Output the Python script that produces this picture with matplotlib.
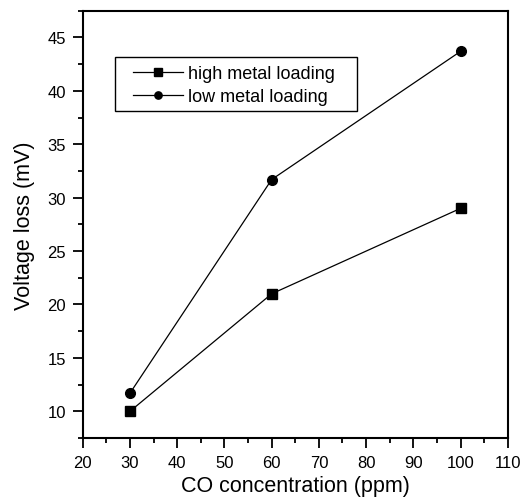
import matplotlib
matplotlib.use('Agg')
import matplotlib.pyplot as plt
from matplotlib.patches import Rectangle
from matplotlib.ticker import MultipleLocator

plt.rcParams['font.family'] = ['Liberation Sans', 'DejaVu Sans']

# Data
co_ppm = [30, 60, 100]
high_loading = [10, 21, 29]
low_loading = [11.7, 31.7, 43.7]

fig = plt.figure(figsize=(5.24, 5.02), dpi=100)
ax = fig.add_axes([0.158, 0.1255, 0.811, 0.851])

ax.plot(co_ppm, high_loading, color='black', lw=0.9, marker='s', ms=7,
        label='high metal loading')
ax.plot(co_ppm, low_loading, color='black', lw=0.9, marker='o', ms=7,
        label='low metal loading')

ax.set_xlim(20, 110)
ax.set_ylim(7.5, 47.5)
ax.xaxis.set_major_locator(MultipleLocator(10))
ax.xaxis.set_minor_locator(MultipleLocator(5))
ax.yaxis.set_major_locator(MultipleLocator(5))
ax.yaxis.set_minor_locator(MultipleLocator(2.5))
ax.tick_params(which='major', direction='out', length=7, width=1.3,
               labelsize=12, pad=5)
ax.tick_params(which='minor', direction='out', length=3.5, width=1.3)
for s in ax.spines.values():
    s.set_linewidth(1.5)

ax.set_xlabel('CO concentration (ppm)', fontsize=15.5, labelpad=4)
ax.set_ylabel('Voltage loss (mV)', fontsize=15.5, labelpad=9)

# legend box drawn separately to get the wide side padding
ax.add_patch(Rectangle((0.0753, 0.766), 0.570, 0.126, transform=ax.transAxes,
                       fill=False, edgecolor='black', lw=1.0, zorder=5))
leg = ax.legend(loc='upper left', bbox_to_anchor=(0.118, 0.872), fontsize=13,
                frameon=False, borderaxespad=0, borderpad=0,
                handlelength=2.75, labelspacing=0.3, handletextpad=0.3,
                markerscale=0.75)

plt.savefig('out.png', dpi=100)
